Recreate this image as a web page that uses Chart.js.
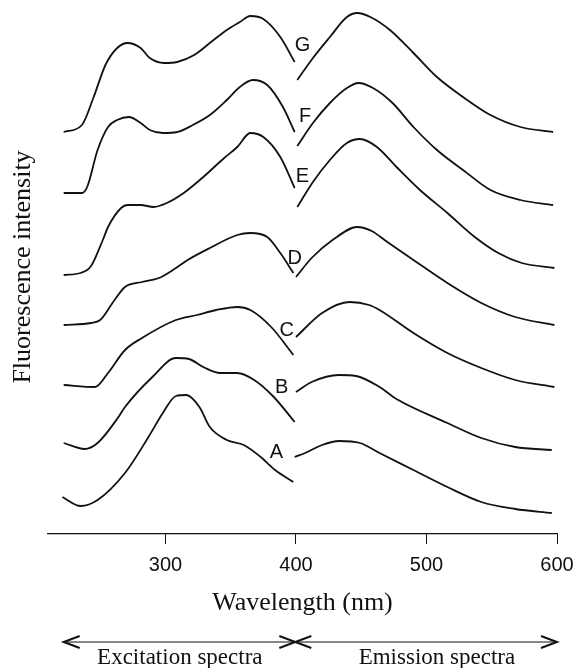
<!DOCTYPE html>
<html>
<head>
<meta charset="utf-8">
<title>Fluorescence spectra A-G</title>
<script src="https://cdn.jsdelivr.net/npm/chart.js@4/dist/chart.umd.min.js"></script>
<style>
  html, body { margin: 0; padding: 0; background: #fff; }
  #chart { display: block; }
</style>
</head>
<body>
<canvas id="chart" width="573" height="668"></canvas>
<script>
// wavelength (nm) and intensity (arb. units, traces stacked as in the figure)
const aExWl  = [221, 235, 248, 269, 287, 298, 308, 316, 326, 334, 347, 360, 373, 384, 398];
const aExInt = [37, 28, 34, 61, 97, 121, 138, 139, 127, 107, 94, 89, 77, 64, 52];
const aEmWl  = [399, 407, 420, 433, 449, 464, 490, 516, 542, 568, 596];
const aEmInt = [77, 81, 89, 93, 91, 81, 64, 47, 32, 25, 21];

const bExWl  = [222, 238, 248, 264, 269, 290, 308, 318, 329, 342, 355, 368, 383, 399];
const bExInt = [91, 85, 91, 117, 127, 157, 176, 175, 167, 161, 161, 154, 137, 112];
const bEmWl  = [400, 412, 433, 446, 464, 477, 516, 542, 568, 596];
const bEmInt = [142, 152, 159, 158, 147, 135, 111, 96, 87, 84];

const cExWl  = [222, 246, 256, 269, 282, 308, 324, 339, 355, 365, 381, 398];
const cExInt = [149, 147, 161, 184, 196, 214, 219, 224, 227, 224, 207, 179];
const cEmWl  = [400, 420, 441, 456, 464, 490, 516, 542, 568, 598];
const cEmInt = [197, 221, 232, 229, 224, 201, 181, 166, 154, 147];

const dExWl  = [222, 243, 250, 261, 269, 282, 295, 308, 317, 334, 355, 365, 378, 388, 398];
const dExInt = [209, 211, 214, 234, 247, 252, 256, 266, 274, 286, 299, 301, 297, 281, 261];
const dEmWl  = [400, 412, 428, 447, 458, 470, 490, 516, 542, 568, 598];
const dEmInt = [257, 276, 294, 307, 303, 292, 274, 251, 231, 217, 209];

const eExWl  = [222, 235, 243, 252, 256, 266, 271, 281, 291, 301, 314, 329, 345, 355, 365, 375, 388, 399];
const eExInt = [259, 261, 268, 294, 307, 326, 329, 329, 327, 331, 341, 357, 376, 387, 401, 397, 377, 346];
const eEmWl  = [401, 413, 426, 439, 449, 462, 477, 495, 516, 536, 555, 573, 598];
const eEmInt = [327, 352, 374, 391, 395, 387, 367, 344, 321, 298, 281, 271, 266];

const fExWl  = [222, 236, 240, 248, 256, 263, 272, 281, 288, 298, 309, 321, 334, 347, 357, 367, 378, 390, 399];
const fExInt = [341, 341, 347, 384, 407, 414, 417, 411, 404, 401, 402, 409, 419, 434, 447, 454, 449, 427, 402];
const fEmWl  = [401, 413, 426, 439, 448, 459, 474, 490, 508, 528, 549, 572, 597];
const fEmInt = [388, 411, 431, 446, 451, 446, 431, 407, 384, 364, 344, 334, 329];

const gExWl  = [222, 236, 245, 254, 263, 271, 281, 288, 299, 309, 322, 334, 347, 357, 365, 375, 388, 399];
const gExInt = [402, 409, 437, 469, 486, 491, 486, 476, 471, 472, 479, 491, 504, 512, 518, 515, 497, 472];
const gEmWl  = [401, 413, 426, 439, 447, 457, 472, 490, 508, 528, 549, 572, 597];
const gEmInt = [454, 476, 497, 517, 521, 517, 504, 481, 457, 437, 419, 407, 402];

const xTicks = [300, 400, 500, 600];

// trace letters and where they sit (nm, intensity)
const traceNames = ['A', 'B', 'C', 'D', 'E', 'F', 'G'];
const traceNameWl = [385, 389, 393, 399, 405, 407, 405];
const traceNameInt = [82, 147, 204, 276, 358, 418, 489];

// the two ranges marked under the axis
const rangeEdges = [222, 399.5, 600];
const rangeNames = ['Excitation spectra', 'Emission spectra'];
const rangeNameWl = [311, 508];

const INK = '#111';
const SERIF = "'Liberation Serif', 'Times New Roman', serif";
const SANS = "'Liberation Sans', Arial, sans-serif";

const traces = [
  [aExWl, aExInt, aEmWl, aEmInt],
  [bExWl, bExInt, bEmWl, bEmInt],
  [cExWl, cExInt, cEmWl, cEmInt],
  [dExWl, dExInt, dEmWl, dEmInt],
  [eExWl, eExInt, eEmWl, eEmInt],
  [fExWl, fExInt, fEmWl, fEmInt],
  [gExWl, gExInt, gEmWl, gEmInt],
];

function toPoints(xs, ys) {
  return xs.map((x, i) => ({ x, y: ys[i] }));
}

function lineDataset(label, xs, ys) {
  return {
    label,
    data: toPoints(xs, ys),
    borderColor: INK,
    borderWidth: 1.8,
    pointRadius: 0,
    fill: false,
    cubicInterpolationMode: 'monotone',
  };
}

const datasets = [];
traces.forEach(([exWl, exInt, emWl, emInt], i) => {
  datasets.push(lineDataset(traceNames[i] + ' excitation', exWl, exInt));
  datasets.push(lineDataset(traceNames[i] + ' emission', emWl, emInt));
});

const traceLetters = {
  id: 'traceLetters',
  afterDatasetsDraw(chart) {
    const { ctx, scales: { x, y } } = chart;
    ctx.save();
    ctx.fillStyle = INK;
    ctx.font = `20px ${SANS}`;
    ctx.textAlign = 'center';
    ctx.textBaseline = 'middle';
    traceNames.forEach((name, i) => {
      ctx.fillText(name, x.getPixelForValue(traceNameWl[i]), y.getPixelForValue(traceNameInt[i]));
    });
    ctx.restore();
  }
};

function chevron(ctx, tipX, y, dir) {
  ctx.beginPath();
  ctx.moveTo(tipX + dir * 16, y - 6);
  ctx.lineTo(tipX, y);
  ctx.lineTo(tipX + dir * 16, y + 6);
  ctx.stroke();
}

const rangeArrows = {
  id: 'rangeArrows',
  afterDraw(chart) {
    const { ctx, scales: { x } } = chart;
    const arrowY = 642;
    const [left, mid, right] = rangeEdges.map(v => x.getPixelForValue(v));

    ctx.save();
    ctx.strokeStyle = INK;
    ctx.lineWidth = 1;
    ctx.beginPath();
    ctx.moveTo(left, arrowY);
    ctx.lineTo(right, arrowY);
    ctx.stroke();

    ctx.lineWidth = 2;
    chevron(ctx, left, arrowY, 1);
    chevron(ctx, mid, arrowY, -1);
    chevron(ctx, mid, arrowY, 1);
    chevron(ctx, right, arrowY, -1);

    ctx.fillStyle = INK;
    ctx.font = `23px ${SERIF}`;
    ctx.textAlign = 'center';
    ctx.textBaseline = 'alphabetic';
    rangeNames.forEach((name, i) => {
      ctx.fillText(name, x.getPixelForValue(rangeNameWl[i]), 664);
    });
    ctx.restore();
  }
};

new Chart(document.getElementById('chart'), {
  type: 'line',
  data: { datasets },
  options: {
    responsive: false,
    animation: false,
    devicePixelRatio: 1,
    layout: { padding: { left: 0, right: 16, top: 0, bottom: 0 } },
    plugins: {
      legend: { display: false },
      tooltip: { enabled: false },
    },
    scales: {
      x: {
        type: 'linear',
        min: 210,
        max: 600,
        afterBuildTicks: scale => {
          scale.ticks = xTicks.map(value => ({ value }));
        },
        afterFit: scale => {
          scale.height = 134;
          scale.paddingLeft = 0;
          scale.paddingRight = 0;
        },
        ticks: {
          color: INK,
          font: { family: SANS, size: 20 },
          padding: 9,
          maxRotation: 0,
        },
        grid: {
          display: true,
          drawOnChartArea: false,
          drawTicks: true,
          tickLength: 10,
          color: INK,
          lineWidth: 1,
        },
        border: { display: true, color: INK, width: 1.2 },
        title: {
          display: true,
          text: 'Wavelength (nm)',
          color: INK,
          font: { family: SERIF, size: 26 },
          padding: { top: 0, bottom: 49 },
        },
      },
      y: {
        type: 'linear',
        min: 0,
        max: 534,
        afterFit: scale => {
          scale.width = 48;
        },
        ticks: { display: false },
        grid: { display: false },
        border: { display: false },
        title: {
          display: true,
          text: 'Fluorescence intensity',
          color: INK,
          font: { family: SERIF, size: 26 },
          padding: { top: 8, bottom: 0 },
        },
      },
    },
  },
  plugins: [traceLetters, rangeArrows],
});
</script>
</body>
</html>
